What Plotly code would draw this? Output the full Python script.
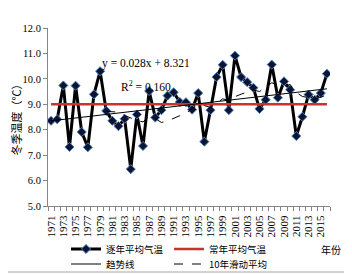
import pandas as pd
import plotly.graph_objects as go

# ---------------- data ----------------
years = list(range(1971, 2017))
temps = [8.35, 8.41, 9.74, 7.32, 9.73, 7.91, 7.31, 9.39, 10.30, 8.74,
         8.35, 8.14, 8.43, 6.45, 8.60, 7.36, 9.52, 8.48, 8.77, 9.34,
         9.47, 9.09, 9.08, 8.79, 9.44, 7.53, 8.77, 10.07, 10.55, 8.77,
         10.91, 10.07, 9.87, 9.65, 8.82, 9.18, 10.56, 9.26, 9.90, 9.57,
         7.75, 8.51, 9.38, 9.18, 9.44, 10.20]
normal_temp = 9.0
trend_slope = 0.028
trend_intercept = 8.321
r_squared = 0.160
ma_window = 10

y_tick_vals = [5, 6, 7, 8, 9, 10, 11, 12]
y_tick_text = ["5.0", "6.0", "7.0", "8.0", "9.0", "10.0", "11.0", "12.0"]
x_tick_years = [y for y in years if y % 2 == 1]
x_tick_text = [str(y) for y in x_tick_years]

names = ["逐年平均气温", "常年平均气温", "趋势线", "10年滑动平均"]

# ---------------- derived series ----------------
normal_series = [normal_temp] * len(years)
trend_series = [trend_intercept + trend_slope * (i + 1) for i in range(len(years))]
ma_series = pd.Series(temps).rolling(ma_window).mean().tolist()

# ---------------- layout geometry ----------------
# the page body adds an 8px offset, so the figure is drawn 8px smaller
OFF = 8
W, H = 352 - OFF, 275 - OFF
ML, MR, MT, MB = 40, 22, 20, 69
PW, PH = W - ML - MR, H - MT - MB


def px_x(px):
    return (px - OFF - ML) / PW


def px_y(py):
    return (H - MB - (py - OFF)) / PH


CJK = "Noto Sans CJK SC"
SERIF = "Liberation Serif"

fig = go.Figure()
fig.add_trace(go.Scatter(
    x=years, y=temps, name=names[0], mode="lines+markers",
    line=dict(color="black", width=3),
    marker=dict(symbol="diamond", size=7, color="#0B1533",
                line=dict(color="#4F81BD", width=1)),
    legend="legend"))
fig.add_trace(go.Scatter(
    x=years, y=normal_series, name=names[1], mode="lines",
    line=dict(color="#C8332F", width=2.5), legend="legend"))
fig.add_trace(go.Scatter(
    x=years, y=trend_series, name=names[2], mode="lines",
    line=dict(color="black", width=1), legend="legend2"))
fig.add_trace(go.Scatter(
    x=years, y=ma_series, name=names[3], mode="lines",
    line=dict(color="black", width=1, dash="dash"), legend="legend2"))

axis_gray = "#868686"
legend_common = dict(xanchor="left", yanchor="middle", orientation="h",
                     font=dict(family=CJK, size=9.5, color="black"),
                     bgcolor="rgba(0,0,0,0)", entrywidth=58,
                     entrywidthmode="pixels", itemclick=False)
fig.update_layout(
    width=W, height=H,
    margin=dict(l=ML, r=MR, t=MT, b=MB, pad=0, autoexpand=False),
    paper_bgcolor="white", plot_bgcolor="white",
    font=dict(family=SERIF, size=10, color="black"),
    xaxis=dict(
        range=[1970.5, 2016.5], tickmode="array",
        tickvals=x_tick_years, ticktext=x_tick_text, tickangle=-90,
        ticks="outside", ticklen=4, tickcolor="rgba(0,0,0,0)",
        showgrid=False, zeroline=False,
        showline=True, linecolor=axis_gray, linewidth=1,
        tickfont=dict(family=SERIF, size=11, color="black"),
        minor=dict(ticks="outside", tickmode="linear", tick0=1970.5, dtick=1,
                   ticklen=4, tickcolor=axis_gray, showgrid=False),
    ),
    yaxis=dict(
        range=[5, 12], tickmode="array",
        tickvals=y_tick_vals, ticktext=y_tick_text,
        ticks="outside", ticklen=4, tickcolor=axis_gray,
        showgrid=False, zeroline=False,
        showline=True, linecolor=axis_gray, linewidth=1,
        tickfont=dict(family=SERIF, size=10.5, color="black"),
        title=dict(text="冬季温度（℃）", font=dict(family=CJK, size=11, color="black"),
                   standoff=6),
    ),
    legend=dict(x=px_x(66), y=px_y(249), **legend_common),
    legend2=dict(x=px_x(66), y=px_y(264), **legend_common),
    showlegend=True,
)

ann_common = dict(xref="paper", yref="paper", showarrow=False,
                  xanchor="center", yanchor="middle")
fig.add_annotation(x=px_x(146), y=px_y(63),
                   text=f"y = {trend_slope:.3f}x + {trend_intercept:.3f}",
                   font=dict(family=SERIF, size=11.5, color="black"), **ann_common)
fig.add_annotation(x=px_x(146), y=px_y(86),
                   text=f"R<sup>2</sup> = {r_squared:.3f}",
                   font=dict(family=SERIF, size=11.5, color="black"), **ann_common)
fig.add_annotation(x=px_x(331), y=px_y(249), text="年份",
                   font=dict(family=CJK, size=10, color="black"), **ann_common)

# chart frame (right and bottom edges; left/top fall inside the page margin)
fig.add_shape(type="line", xref="paper", yref="paper",
              x0=px_x(348), x1=px_x(348), y0=px_y(272), y1=px_y(OFF),
              line=dict(color="#A6A6A6", width=1))
fig.add_shape(type="line", xref="paper", yref="paper",
              x0=px_x(OFF), x1=px_x(348), y0=px_y(272), y1=px_y(272),
              line=dict(color="#A6A6A6", width=1))

fig.write_html("out.html")
